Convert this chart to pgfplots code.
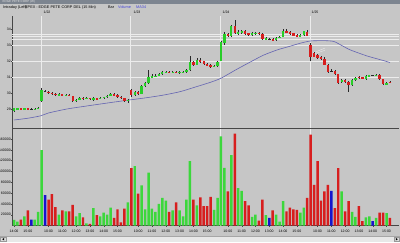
\documentclass[border=0pt]{standalone}
\usepackage{fontspec}
\setmainfont{Liberation Sans}
\usepackage{pgfplots}
\usepackage{pgfplotstable}
\pgfplotsset{compat=1.18}
\definecolor{bg}{RGB}{198,198,198}
\definecolor{titlebar}{RGB}{125,133,144}
\definecolor{gridw}{RGB}{236,236,236}
\definecolor{axisgrey}{RGB}{70,70,70}
\definecolor{cgreen}{RGB}{40,205,40}
\definecolor{cred}{RGB}{215,30,30}
\definecolor{vgreen}{RGB}{60,215,60}
\definecolor{vred}{RGB}{215,30,30}
\definecolor{vblue}{RGB}{20,20,205}
\definecolor{mablue}{RGB}{100,100,178}
\definecolor{wick}{RGB}{40,40,40}
\definecolor{scrollbg}{RGB}{232,232,232}
\newcommand{\hdr}{\fontsize{3.8}{4}\selectfont}
\newcommand{\tck}{\fontsize{3.5}{4}\selectfont}

\pgfplotstableread{
i O H L C V
0 28.88 29.10 28.85 29.07 10600
1 29.04 29.10 29.00 29.07 7000
2 29.07 29.10 29.00 29.02 11000
3 29.02 29.10 29.00 29.06 17000
4 29.06 29.10 28.98 29.00 28000
5 29.00 29.07 28.98 29.00 11000
6 29.00 29.08 28.98 29.05 11000
7 29.05 29.15 29.02 29.10 25000
8 29.50 30.35 29.45 30.20 139500
9 30.15 30.22 30.08 30.15 56000
10 30.12 30.18 29.98 30.03 48000
11 30.05 30.10 29.92 29.95 58000
12 29.97 30.00 29.86 29.90 34000
13 29.90 30.00 29.87 29.95 20000
14 29.95 29.98 29.84 29.88 28000
15 29.88 29.96 29.85 29.92 26000
16 29.92 29.95 29.82 29.85 26000
17 29.82 29.86 29.45 29.50 38000
18 29.50 29.66 29.45 29.62 17000
19 29.62 29.76 29.58 29.72 23000
20 29.72 29.75 29.60 29.66 15000
21 29.66 29.76 29.63 29.72 4000
22 29.72 29.74 29.62 29.68 3000
23 29.62 29.78 29.55 29.70 32000
24 29.70 29.73 29.62 29.66 19000
25 29.66 29.76 29.63 29.72 17000
26 29.72 29.80 29.68 29.78 24000
27 29.78 29.88 29.74 29.86 20000
28 29.86 30.00 29.82 29.97 33000
29 29.97 30.02 29.82 29.85 14000
30 29.88 29.95 29.74 29.78 30000
31 29.78 29.82 29.68 29.72 6000
32 29.70 29.74 29.45 29.52 31000
33 29.52 29.65 29.38 29.60 43000
34 30.20 30.30 29.80 29.88 106000
35 29.88 30.15 29.82 30.10 110000
36 30.10 30.15 29.92 29.98 59000
37 29.98 30.50 29.95 30.45 74000
38 30.45 30.70 30.40 30.65 30000
39 30.65 31.45 30.60 31.05 98000
40 31.00 31.20 30.95 31.10 31000
41 31.05 31.20 31.00 31.12 25000
42 31.12 31.30 31.08 31.20 40000
43 31.20 31.38 31.15 31.33 51000
44 31.30 31.40 31.25 31.36 46000
45 31.36 31.40 31.26 31.30 25000
46 31.30 31.40 31.26 31.35 28000
47 31.36 31.40 31.25 31.28 43000
48 31.28 31.38 31.24 31.34 28000
49 31.32 31.40 31.28 31.36 17000
50 31.34 31.50 31.30 31.45 48000
51 31.45 32.35 31.40 31.95 119000
52 31.95 32.05 31.72 31.80 48000
53 31.80 32.20 31.75 32.10 37000
54 32.10 32.20 31.92 31.98 52000
55 32.00 32.05 31.78 31.82 36000
56 31.85 31.90 31.70 31.75 36000
57 31.80 31.85 31.62 31.68 53000
58 31.68 31.78 31.64 31.74 29000
59 31.72 32.00 31.68 31.95 51000
60 32.05 33.30 32.00 33.20 165000
61 33.15 33.85 33.05 33.70 106600
62 33.70 33.80 33.50 33.60 63000
63 33.60 34.30 33.55 34.20 130000
64 34.20 34.62 33.70 33.75 170000
65 33.72 33.95 33.65 33.85 69000
66 33.80 33.95 33.72 33.88 64000
67 33.88 33.95 33.65 33.70 45000
68 33.75 33.80 33.60 33.65 37000
69 33.65 33.82 33.60 33.75 16000
70 33.72 33.85 33.68 33.80 20000
71 33.80 33.85 33.68 33.72 9000
72 33.72 33.78 33.35 33.40 48000
73 33.40 33.50 33.35 33.45 19000
74 33.42 33.48 33.36 33.42 14000
75 33.42 33.46 33.28 33.32 28000
76 33.32 33.52 33.28 33.48 20000
77 33.48 33.60 33.45 33.55 7000
78 33.55 34.00 33.50 33.92 45000
79 33.92 34.05 33.75 33.80 26000
80 33.82 33.88 33.66 33.70 33000
81 33.75 33.80 33.58 33.62 30000
82 33.65 33.70 33.52 33.56 29000
83 33.56 33.72 33.52 33.68 24000
84 33.65 33.92 33.60 33.88 33000
85 33.86 33.95 33.58 33.62 51000
86 33.05 33.15 32.00 32.25 168000
87 32.50 32.60 32.25 32.30 75000
88 32.40 32.45 32.15 32.20 119000
89 32.30 32.35 32.10 32.15 46000
90 32.18 32.25 31.75 31.80 63000
91 31.80 31.85 31.30 31.35 75000
92 31.42 31.55 31.32 31.42 64000
93 31.42 31.48 31.18 31.22 32000
94 31.20 31.22 30.62 30.68 106000
95 30.70 30.90 30.65 30.85 63000
96 30.85 30.90 30.65 30.70 26000
97 30.70 30.75 30.10 30.55 45000
98 30.55 30.88 30.45 30.84 25000
99 30.84 31.02 30.80 30.98 16000
100 31.05 31.12 30.92 30.98 36000
101 31.00 31.02 30.93 30.96 8000
102 30.90 31.15 30.85 31.10 15000
103 31.10 31.18 31.06 31.14 17000
104 31.14 31.18 31.10 31.14 8000
105 31.12 31.20 31.10 31.16 14000
106 31.16 31.20 30.86 30.90 24000
107 30.90 30.92 30.52 30.58 24000
108 30.58 30.70 30.55 30.66 23000
109 30.74 30.80 30.66 30.70 14000
}\bars

\begin{document}
\begin{tikzpicture}
\useasboundingbox (0pt,0pt) rectangle (400pt,242pt);
\clip (0pt,0pt) rectangle (400pt,242pt);
\fill[bg] (0pt,0pt) rectangle (400pt,242pt);
% title bar
\fill[titlebar] (0pt,237.6pt) rectangle (400pt,242pt);
\node[anchor=west, font=\fontsize{3}{3}\selectfont, text=white!88!black, inner sep=0] at (2.5pt,239.8pt) {EDGE PETE CORP (W)};
% header
\node[anchor=west, font=\hdr, inner sep=0] at (3pt,234.6pt) {Intraday (Left)};
\node[anchor=west, font=\hdr, inner sep=0] at (25pt,234.6pt) {EPEX - EDGE PETE CORP DEL (15 Min)};
\node[anchor=west, font=\hdr, inner sep=0] at (108pt,234.6pt) {Bar};
\node[anchor=west, font=\hdr, inner sep=0, text=vblue!80!white] at (118pt,234.6pt) {Volume};
\node[anchor=west, font=\hdr, inner sep=0, text=vblue!80!white] at (136pt,234.6pt) {MA34};
% dates
\node[font=\tck, inner sep=0] at (47pt,229.3pt) {1/22};
\node[font=\tck, inner sep=0] at (137pt,229.3pt) {1/23};
\node[font=\tck, inner sep=0] at (226pt,229.3pt) {1/24};
\node[font=\tck, inner sep=0] at (315pt,229.3pt) {1/25};
% scroll bar
\fill[scrollbg] (0pt,0pt) rectangle (400pt,5.6pt);
\draw[gray!70, line width=0.3pt] (0pt,5.6pt) -- (400pt,5.6pt);
\draw[gray!80, line width=0.3pt, fill=bg!60!white] (0.4pt,0.4pt) rectangle (6pt,5.2pt);
\fill[black] (2.2pt,2.8pt) -- (4.2pt,4.1pt) -- (4.2pt,1.5pt) -- cycle;
\draw[gray!80, line width=0.3pt, fill=bg!60!white] (394pt,0.4pt) rectangle (399.6pt,5.2pt);
\fill[black] (397.8pt,2.8pt) -- (395.8pt,4.1pt) -- (395.8pt,1.5pt) -- cycle;

% ---------- price panel ----------
\begin{axis}[
  at={(12.3pt,114pt)}, anchor=south west, scale only axis,
  width=387.2pt, height=112pt,
  xmin=-0.5, xmax=111.76, ymin=27.84, ymax=34.84,
  axis x line*=bottom, axis y line*=left,
  axis line style={draw=axisgrey, line width=0.6pt},
  xtick=\empty,
  ytick={29,30,31,32,33,34},
  yticklabel style={font=\tck, inner sep=0.4pt, /pgf/number format/assume math mode=true},
  tick align=outside, major tick length=1pt, tick style={axisgrey, line width=0.3pt},
  extra y ticks={31,32,33,33.4,33.55,33.72}, extra y tick labels={},
  extra y tick style={grid=major, major tick length=0pt},
  extra x ticks={7.75,33.75,59.75,85.75}, extra x tick labels={},
  extra x tick style={grid=major, major tick length=0pt},
  grid style={gridw, line width=0.5pt},
]
\addplot [mablue, line width=0.6pt, smooth, tension=0.4] coordinates {
(0,28.34) (4,28.45) (7.7,28.6) (10,28.78) (15.4,29.03) (21.2,29.22) (28,29.43)
(33,29.58) (38,29.72) (43.4,29.9) (48.3,30.12) (53,30.43) (57,30.7) (60,30.95)
(64.5,31.5) (69.5,32.08) (72.4,32.4) (76.3,32.72) (80,32.95) (83,33.14) (86,33.28)
(90,33.3) (92.7,33.25) (95,33.0) (97.5,32.72) (102.4,32.34) (107.2,32.05) (109,31.93)};
\addplot [gridw, line width=0.35pt] coordinates {(86.7,32.53) (90.2,32.84)};
\addplot [gridw, line width=0.35pt] coordinates {(86.7,32.45) (90.2,32.7)};
% wicks
\addplot [draw=none, mark=none, error bars/.cd, y dir=both, y explicit, error mark=none,
  error bar style={draw=wick, line width=0.4pt}]
  table [x=i, y expr={(\thisrow{H}+\thisrow{L})/2}, y error expr={(\thisrow{H}-\thisrow{L})/2}] {\bars};
% up bodies
\addplot [draw=none, mark=none, restrict expr to domain={\thisrow{C}-\thisrow{O}}{0.001:10},
  error bars/.cd, y dir=both, y explicit, error mark=none,
  error bar style={draw=cgreen, line width=2.3pt}]
  table [x=i, y expr={(\thisrow{O}+\thisrow{C})/2}, y error expr={abs(\thisrow{C}-\thisrow{O})/2}] {\bars};
% down bodies
\addplot [draw=none, mark=none, restrict expr to domain={\thisrow{C}-\thisrow{O}}{-10:-0.001},
  error bars/.cd, y dir=both, y explicit, error mark=none,
  error bar style={draw=cred, line width=2.3pt}]
  table [x=i, y expr={(\thisrow{O}+\thisrow{C})/2}, y error expr={abs(\thisrow{C}-\thisrow{O})/2}] {\bars};
% doji
\addplot [only marks, mark=-, mark size=1.3pt, mark options={draw=wick, line width=0.45pt},
  restrict expr to domain={\thisrow{C}-\thisrow{O}}{-0.0005:0.0005}]
  table [x=i, y=C] {\bars};
\end{axis}

% ---------- volume panel ----------
\begin{axis}[
  at={(12.3pt,16.5pt)}, anchor=south west, scale only axis,
  width=387.2pt, height=97pt,
  xmin=-0.5, xmax=111.76, ymin=0, ymax=179400,
  axis x line*=bottom, axis y line*=left,
  axis line style={draw=axisgrey, line width=0.6pt},
  xtick={0,4,10,14,18,22,26,30,36,40,44,48,52,56,62,66,70,74,78,82,88,92,96,100,104,108},
  xticklabels={14:00,15:00,10:00,11:00,12:00,13:00,14:00,15:00,10:00,11:00,12:00,13:00,14:00,15:00,10:00,11:00,12:00,13:00,14:00,15:00,10:00,11:00,12:00,13:00,14:00,15:00},
  xticklabel style={font=\tck, inner sep=0.5pt, yshift=-2.6pt},
  ytick={20000,40000,60000,80000,100000,120000,140000,160000},
  scaled y ticks=false,
  yticklabel style={font=\tck, inner sep=0.4pt, /pgf/number format/.cd, fixed, 1000 sep={}, assume math mode=true},
  tick align=outside, major tick length=1pt, tick style={axisgrey, line width=0.3pt},
  extra x ticks={7.75,33.75,59.75,85.75}, extra x tick labels={},
  extra x tick style={grid=major, major tick length=0pt},
  grid style={gridw, line width=0.5pt},
]
\addplot [ybar, bar shift=0pt, bar width=0.72, fill=vgreen, draw=none,
  restrict expr to domain={\thisrow{C}-\thisrow{O}}{0.001:10}] table [x=i, y=V] {\bars};
\addplot [ybar, bar shift=0pt, bar width=0.72, fill=vred, draw=none,
  restrict expr to domain={\thisrow{C}-\thisrow{O}}{-10:-0.001}] table [x=i, y=V] {\bars};
\addplot [ybar, bar shift=0pt, bar width=0.72, fill=vblue, draw=none,
  restrict expr to domain={\thisrow{C}-\thisrow{O}}{-0.0005:0.0005}] table [x=i, y=V] {\bars};
\end{axis}
\end{tikzpicture}
\end{document}
